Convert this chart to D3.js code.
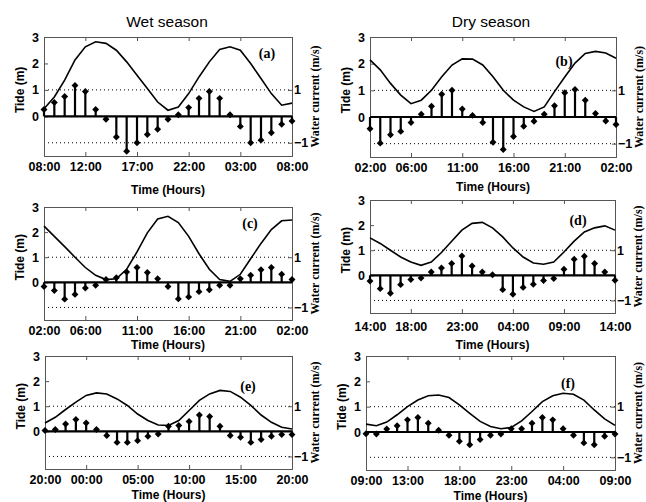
<!DOCTYPE html>
<html>
<head>
<meta charset="utf-8">
<script src="https://cdn.jsdelivr.net/npm/d3@7"></script>
<style>
body{margin:0;background:#fff;}
svg{display:block;}
.tick text{font-family:"Liberation Sans",Arial,sans-serif;font-weight:bold;font-size:12.5px;}
</style>
</head>
<body>
<svg width="646" height="502"></svg>
<script>
// hourly samples, 25 per panel (start hour -> same hour next day)
var tickIdx=[0,4,9,14,19,24];

var ticksA=["08:00","12:00","17:00","22:00","03:00","08:00"];
var ticksB=["02:00","06:00","11:00","16:00","21:00","02:00"];
var ticksC=["02:00","06:00","11:00","16:00","21:00","02:00"];
var ticksD=["14:00","18:00","23:00","04:00","09:00","14:00"];
var ticksE=["20:00","00:00","05:00","10:00","15:00","20:00"];
var ticksF=["09:00","13:00","18:00","23:00","04:00","09:00"];

// tide (m)
var tideA=[0.29,0.73,1.37,2.13,2.63,2.82,2.76,2.5,2.06,1.55,1.05,0.54,0.23,0.35,0.86,1.49,2.06,2.53,2.63,2.5,2.0,1.43,0.86,0.42,0.5];
var tideB=[2.14,1.77,1.26,0.82,0.5,0.63,1.0,1.51,1.95,2.18,2.17,1.95,1.51,1.0,0.63,0.38,0.21,0.38,0.95,1.5,2.02,2.38,2.46,2.4,2.2];
var tideC=[2.24,1.83,1.42,1.0,0.59,0.28,0.11,0.14,0.52,1.21,1.97,2.52,2.63,2.38,1.83,1.14,0.52,0.11,0.04,0.32,0.94,1.55,2.1,2.45,2.48];
var tideD=[1.49,1.27,1.0,0.73,0.53,0.4,0.53,0.91,1.36,1.8,2.07,2.11,1.89,1.53,1.09,0.73,0.49,0.44,0.53,0.93,1.36,1.73,1.89,1.97,1.8];
var tideE=[0.33,0.56,0.87,1.16,1.43,1.53,1.49,1.29,1.03,0.69,0.43,0.25,0.23,0.43,0.83,1.23,1.49,1.63,1.59,1.36,1.03,0.65,0.36,0.16,0.09];
var tideF=[0.31,0.25,0.39,0.68,1.0,1.26,1.43,1.46,1.36,1.07,0.74,0.42,0.22,0.13,0.18,0.44,0.81,1.2,1.43,1.53,1.49,1.26,0.87,0.52,0.26];

// water current (m/s)
var curA=[0.26,0.52,0.75,1.17,0.94,0.26,-0.11,-0.78,-1.32,-1.0,-0.69,-0.49,-0.11,0.06,0.33,0.68,0.94,0.68,0.06,-0.38,-1.0,-0.9,-0.62,-0.3,-0.18];
var curB=[-0.44,-0.98,-0.67,-0.54,-0.21,0.1,0.4,0.85,1.0,0.3,0.06,-0.21,-0.95,-1.22,-0.73,-0.35,-0.16,0.1,0.42,0.91,1.03,0.63,0.13,-0.15,-0.28];
var curC=[-0.17,-0.33,-0.67,-0.48,-0.23,-0.12,0.11,0.18,0.41,0.59,0.39,0.14,-0.17,-0.66,-0.58,-0.37,-0.3,-0.12,-0.12,0.14,0.28,0.5,0.59,0.32,0.11];
var curD=[-0.23,-0.53,-0.71,-0.37,-0.17,-0.11,0.13,0.29,0.47,0.77,0.37,0.13,0.02,-0.57,-0.75,-0.48,-0.36,-0.21,-0.13,0.24,0.64,0.76,0.47,0.13,-0.2];
var curE=[0.03,0.07,0.29,0.47,0.33,0.07,-0.17,-0.44,-0.44,-0.37,-0.2,-0.11,0.2,0.23,0.39,0.65,0.59,0.2,-0.17,-0.24,-0.44,-0.33,-0.2,-0.13,-0.13];
var curF=[-0.07,-0.08,0.12,0.25,0.48,0.57,0.35,0.07,-0.13,-0.37,-0.5,-0.3,-0.13,-0.08,0.13,0.13,0.35,0.57,0.48,0.13,-0.13,-0.43,-0.5,-0.17,-0.08];

var panels=[
  {id:"(a)",tide:tideA,cur:curA,ticks:ticksA,l:44,r:292,t:37,b:156,pad:6,tlY:194,lab:[267,58]},
  {id:"(b)",tide:tideB,cur:curB,ticks:ticksB,l:370,r:616,t:37,b:157,pad:6,tlY:191,lab:[564,66]},
  {id:"(c)",tide:tideC,cur:curC,ticks:ticksC,l:44,r:292,t:207,b:320,pad:6,tlY:349,lab:[250,228]},
  {id:"(d)",tide:tideD,cur:curD,ticks:ticksD,l:370,r:615,t:200,b:313,pad:9,tlY:349,lab:[578,225]},
  {id:"(e)",tide:tideE,cur:curE,ticks:ticksE,l:45,r:292,t:356,b:469,pad:6,tlY:499,lab:[248,391]},
  {id:"(f)",tide:tideF,cur:curF,ticks:ticksF,l:366,r:615,t:356,b:470,pad:6,tlY:500,lab:[568,388]}
];

var svg=d3.select("svg");

svg.append("text").attr("x",167).attr("y",27).attr("text-anchor","middle")
  .style("font-family","Liberation Sans,Arial,sans-serif").style("font-size","15.5px").text("Wet season");
svg.append("text").attr("x",491).attr("y",27).attr("text-anchor","middle")
  .style("font-family","Liberation Sans,Arial,sans-serif").style("font-size","15.5px").text("Dry season");

panels.forEach(function(p){
  var x=d3.scaleLinear().domain([0,24]).range([p.l,p.r]);
  var y=d3.scaleLinear().domain([-1.5,3]).range([p.b,p.t]);
  var yc=d3.scaleLinear().domain([-1.5,3]).range([p.b,p.t]);
  var g=svg.append("g");

  // dotted reference lines at +-1
  g.selectAll("line.dot").data([1,-1]).enter().append("line")
    .attr("x1",p.l).attr("x2",p.r)
    .attr("y1",function(d){return y(d);}).attr("y2",function(d){return y(d);})
    .attr("stroke","#000").attr("stroke-width",1).attr("stroke-dasharray","1,3");

  // axes (ticks pointing inward)
  var xb=d3.axisBottom(x).tickValues(tickIdx).tickSize(-4).tickPadding(p.pad)
    .tickFormat(function(d,i){return p.ticks[i];});
  g.append("g").attr("transform","translate(0,"+p.b+")").call(xb);
  var xt=d3.axisTop(x).tickValues(tickIdx).tickSize(-4).tickFormat("");
  g.append("g").attr("transform","translate(0,"+p.t+")").call(xt);
  var yl=d3.axisLeft(y).tickValues([0,1,2,3]).tickSize(-4).tickPadding(5).tickFormat(d3.format("d"));
  g.append("g").attr("transform","translate("+p.l+",0)").call(yl);
  var yr=d3.axisRight(yc).tickValues([-1,1]).tickSize(-4).tickPadding(2).tickFormat(d3.format("d"));
  g.append("g").attr("transform","translate("+p.r+",0)").call(yr);
  g.selectAll(".domain").attr("stroke","#555");
  g.selectAll(".tick line").attr("stroke","#555");

  // zero line
  g.append("line").attr("x1",p.l).attr("x2",p.r).attr("y1",y(0)).attr("y2",y(0))
    .attr("stroke","#000").attr("stroke-width",2.2);

  // tide curve
  g.append("path").datum(p.tide)
    .attr("d",d3.line().x(function(d,i){return x(i);}).y(function(d){return y(d);}))
    .attr("fill","none").attr("stroke","#000").attr("stroke-width",1.6);

  // current stems
  g.selectAll("line.stem").data(p.cur).enter().append("line").attr("class","stem")
    .attr("x1",function(d,i){return x(i);}).attr("x2",function(d,i){return x(i);})
    .attr("y1",yc(0)).attr("y2",function(d){return yc(d);})
    .attr("stroke","#000").attr("stroke-width",2.2);
  g.selectAll("path.mk").data(p.cur).enter().append("path").attr("class","mk")
    .attr("d",d3.symbol().type(d3.symbolSquare).size(24))
    .attr("transform",function(d,i){return "translate("+x(i)+","+yc(d)+") rotate(45)";})
    .attr("fill","#000");

  // labels
  g.append("text").attr("x",p.lab[0]).attr("y",p.lab[1]).attr("text-anchor","middle")
    .style("font-family","Liberation Serif,Times New Roman,serif").style("font-weight","bold")
    .style("font-size","14px").text(p.id);
  g.append("text").attr("x",(p.l+p.r)/2).attr("y",p.tlY).attr("text-anchor","middle")
    .style("font-family","Liberation Sans,Arial,sans-serif").style("font-weight","bold")
    .style("font-size","12px").text("Time (Hours)");
  g.append("text").attr("transform","translate("+(p.l-20)+","+y(1)+") rotate(-90)")
    .attr("text-anchor","middle")
    .style("font-family","Liberation Sans,Arial,sans-serif").style("font-weight","bold")
    .style("font-size","12px").text("Tide (m)");
  g.append("text").attr("transform","translate("+(p.r+27)+","+((p.t+p.b)/2)+") rotate(-90)")
    .attr("text-anchor","middle")
    .style("font-family","Liberation Serif,Times New Roman,serif").style("font-weight","bold")
    .style("font-size","12px").text("Water current (m/s)");
});
</script>
</body>
</html>
